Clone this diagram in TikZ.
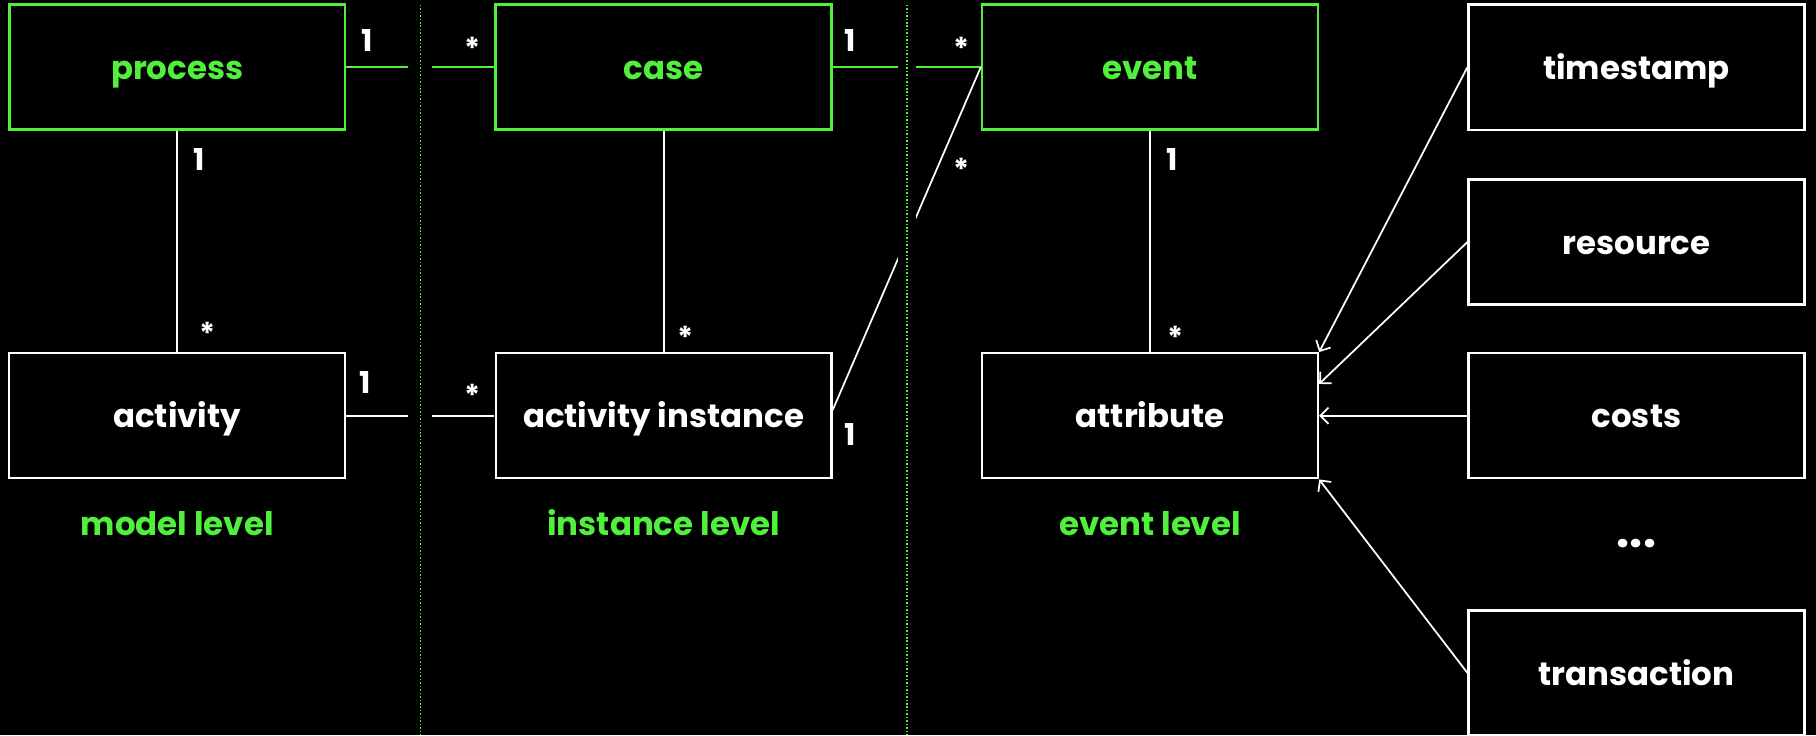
\documentclass[tikz,border=0pt]{standalone}
\usepackage{fontspec}
\setmainfont{Poppins}
\usetikzlibrary{arrows.meta,calc}
\definecolor{lg}{RGB}{80,240,60}
\begin{document}
\begin{tikzpicture}[x=1pt,y=-1pt,
  box/.style={draw=white, line width=2pt, minimum width=290pt, minimum height=108pt, inner sep=0pt, text height=21pt, text depth=0pt, text=white, font=\fontsize{28}{34}\selectfont\bfseries},
  gbox/.style={box, draw=lg, text=lg, line width=2.3pt},
  conn/.style={draw=white, line width=1.5pt},
  gconn/.style={draw=lg, line width=2pt},
  mult/.style={text=white, font=\fontsize{26}{30}\selectfont\bfseries, inner sep=0pt},
  lvl/.style={text=lg, font=\fontsize{28}{34}\selectfont\bfseries, inner sep=0pt, text height=21pt, text depth=0pt},
  arr/.style={conn, -{Straight Barb[length=7pt,width=14pt,line width=1.5pt]}},
  sep/.style={draw=lg, line width=1.3pt, dash pattern=on 1.3pt off 1.7pt}]
\fill[black] (0,0) rectangle (1568,635);
\useasboundingbox (0,0) rectangle (1568,635);
% boxes
\node[gbox] (process) at (153,58) {process};
\node[gbox] (case) at (573,58) {case};
\node[gbox] (event) at (993,58) {event};
\node[box] (activity) at (153,359) {activity};
\node[box] (ai) at (573,359) {activity instance};
\node[box] (attr) at (993,359) {attribute};
\node[box] (ts) at (1413,58) {timestamp};
\node[box] (res) at (1413,209) {resource};
\node[box] (costs) at (1413,359) {costs};
\node[box] (trans) at (1413,581) {transaction};
\node[text=white, font=\fontsize{40}{44}\selectfont\bfseries, inner sep=0pt, anchor=base] (dots) at (1413,473) {...};
% connectors
\draw[gconn] (process.east) -- (case.west);
\draw[gconn] (case.east) -- (event.west);
\draw[conn] (process.south) -- (activity.north);
\draw[conn] (case.south) -- (ai.north);
\draw[conn] (event.south) -- (attr.north);
\draw[conn] (activity.east) -- (ai.east -| case.west);
\draw[conn] ($(ai.east)+(0,-5)$) -- (event.west);
\coordinate (resin) at ($(attr.north east)!0.25!(attr.south east)$);
\draw[arr] (ts.west) -- (attr.north east);
\draw[arr] (res.west) -- (resin);
\draw[arr] (costs.west) -- (attr.east);
\draw[arr] (trans.west) -- (attr.south east);
% separators
\fill[black] (352,0) rectangle (373,635);
\fill[black] (775,0) rectangle (791,635);
\coordinate (s1t) at (363,4); \coordinate (s1b) at (363,635);
\coordinate (s2t) at (783,4); \coordinate (s2b) at (783,635);
\draw[sep] (s1t) -- (s1b);
\draw[sep] (s2t) -- (s2b);
% multiplicities
\node[mult] (m1) at (317,35) {1};
\node[mult] (m2) at (408,42) {*};
\node[mult] (m3) at (734,35) {1};
\node[mult] (m4) at (830,42) {*};
\node[mult] (m5) at (172,138) {1};
\node[mult] (m6) at (179,288) {*};
\node[mult] (m7) at (592,291) {*};
\node[mult] (m8) at (830,146) {*};
\node[mult] (m9) at (1012,138) {1};
\node[mult] (m10) at (1015,291) {*};
\node[mult] (m11) at (315,330) {1};
\node[mult] (m12) at (408,341) {*};
\node[mult] (m13) at (734,375) {1};
% level labels
\node[lvl] (l1) at (153,452) {model level};
\node[lvl] (l2) at (573,452) {instance level};
\node[lvl] (l3) at (993,452) {event level};
\end{tikzpicture}
\end{document}
